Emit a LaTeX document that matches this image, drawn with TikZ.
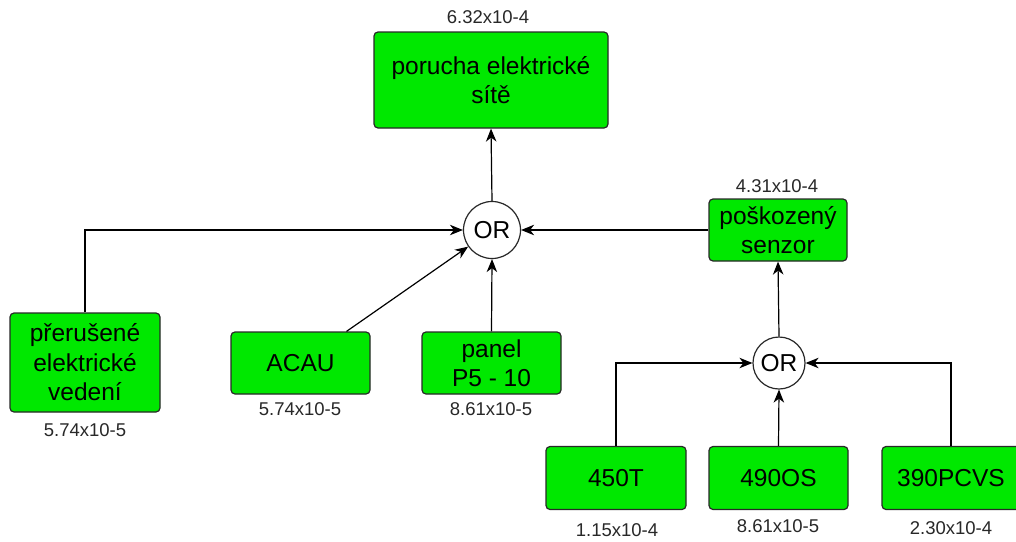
\documentclass[tikz,border=0pt]{standalone}
\usepackage{fontspec}
\setmainfont{Liberation Sans}
\usetikzlibrary{arrows.meta}
\definecolor{boxgreen}{RGB}{0,232,0}
\definecolor{edgegray}{RGB}{40,40,40}
\definecolor{lblgray}{RGB}{40,40,40}
\tikzset{
  event/.style={draw=edgegray, fill=boxgreen, line width=1.2pt, rounded corners=4pt,
    align=center, inner sep=0pt, font=\fontsize{24.5}{29.5}\selectfont},
  gate/.style={draw=edgegray, fill=white, circle, line width=1.2pt, inner sep=0pt,
    font=\fontsize{24.5}{29.5}\selectfont},
  lbl/.style={text=lblgray, inner sep=0pt, font=\fontsize{18.5}{22}\selectfont},
  link/.style={draw=black, line width=1.2pt, -{Stealth[length=13pt,width=10.5pt,inset=4pt]}}
}
\begin{document}
\begin{tikzpicture}[x=1pt,y=-1pt]
\useasboundingbox (0,0) rectangle (1016,541);
\fill[white] (0,0) rectangle (1016,541);

% events
\node[event, minimum width=234pt, minimum height=96pt] (top) at (491,80) {porucha elektrické\\sítě};
\node[event, minimum width=138pt, minimum height=62pt] (pos) at (778,230) {poškozený\\senzor};
\node[event, minimum width=150pt, minimum height=99pt] (pr) at (85,362.5) {přerušené\\elektrické\\vedení};
\node[event, minimum width=139pt, minimum height=62pt] (acau) at (300.5,363) {ACAU};
\node[event, minimum width=139pt, minimum height=62pt] (panel) at (491.5,363) {panel\\P5 - 10};
\node[event, minimum width=140pt, minimum height=63pt] (t450) at (616,478) {450T};
\node[event, minimum width=139pt, minimum height=63pt] (os) at (778.5,478) {490OS};
\node[event, minimum width=138pt, minimum height=63pt] (pcvs) at (951,478) {390PCVS};

% gates
\node[gate, minimum size=57pt] (or1) at (492,230) {OR};
\node[gate, minimum size=52pt] (or2) at (779,363) {OR};

% probabilities
\node[lbl] (ltop) at (488,17) {6.32x10-4};
\node[lbl] (lpos) at (777,186) {4.31x10-4};
\node[lbl] (lpr) at (85,430) {5.74x10-5};
\node[lbl] (lacau) at (300,409) {5.74x10-5};
\node[lbl] (lpanel) at (491,409) {8.61x10-5};
\node[lbl] (lt450) at (617,530) {1.15x10-4};
\node[lbl] (los) at (778,526) {8.61x10-5};
\node[lbl] (lpcvs) at (951,528) {2.30x10-4};

% connectors
\draw[link] (or1.north) -- (top.south);
\draw[link] (pr.north) |- (or1.west);
\draw[link] ([xshift=46pt]acau.north) -- (or1);
\draw[link] (panel.north) -- (or1.south);
\draw[link] (pos.west) -- (or1.east);
\draw[link] (or2.north) -- (pos.south);
\draw[link] (t450.north) |- (or2.west);
\draw[link] (os.north) -- (or2.south);
\draw[link] (pcvs.north) |- (or2.east);
\end{tikzpicture}
\end{document}
